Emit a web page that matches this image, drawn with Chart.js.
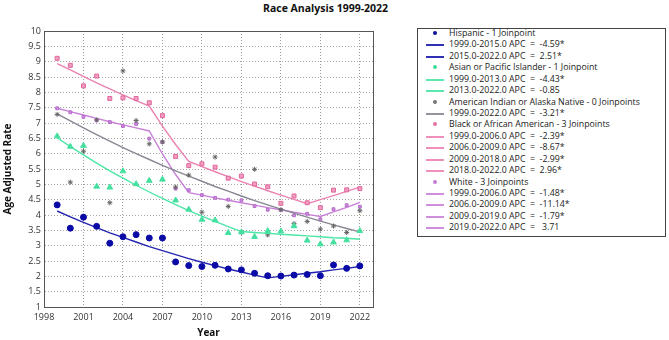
<!DOCTYPE html>
<html>
<head>
<meta charset="utf-8">
<script src="https://cdn.jsdelivr.net/npm/chart.js@4.4.1/dist/chart.umd.min.js"></script>
<style>
  body { margin: 0; background: #fff; }
  #wrap { position: relative; width: 669px; height: 340px; background: #fff; overflow: hidden; }
  #title { position: absolute; left: 263px; top: 1px; font: bold 10.5px "Open Sans", sans-serif; color: #111; white-space: nowrap; }
  #plot { position: absolute; left: 0; top: 0; }
  #legend { position: absolute; left: 417px; top: 28px; width: 249px; height: 209px; border: 1px solid #444; box-sizing: border-box; }
  .row { position: absolute; left: 0; height: 12px; font: 8.8px "Open Sans", sans-serif; color: #222; white-space: pre; }
  .row span { position: absolute; left: 31px; top: -1px; }
  .sym-line { position: absolute; left: 8px; top: 5px; width: 18px; height: 2px; }
  .sym-dot { position: absolute; left: 15px; top: 3px; width: 4px; height: 4px; border-radius: 2px; }
</style>
</head>
<body>
<div id="wrap">
  <div id="title">Race Analysis 1999-2022</div>
  <canvas id="plot" width="380" height="340"></canvas>
  <div id="legend"></div>
</div>
<script>
const years = [1999, 2000, 2001, 2002, 2003, 2004, 2005, 2006, 2007, 2008, 2009, 2010,
               2011, 2012, 2013, 2014, 2015, 2016, 2017, 2018, 2019, 2020, 2021, 2022];
const xTicks = [1998, 2001, 2004, 2007, 2010, 2013, 2016, 2019, 2022];

const hispanicRate = [4.33, 3.57, 3.93, 3.63, 3.08, 3.29, 3.36, 3.25, 3.25, 2.47, 2.35, 2.32,
                      2.36, 2.24, 2.21, 2.10, 2.02, 2.01, 2.04, 2.06, 2.02, 2.37, 2.26, 2.34];
const hispanicFit = [4.13, 3.94, 3.76, 3.59, 3.42, 3.27, 3.12, 2.97, 2.84, 2.71, 2.58, 2.46,
                     2.35, 2.24, 2.14, 2.04, 1.95, 2.00, 2.05, 2.10, 2.15, 2.21, 2.26, 2.32];

const asianRate = [6.57, 6.23, 6.26, 4.93, 4.90, 5.43, 5.01, 5.12, 5.16, 4.48, 4.18, 3.85,
                   3.83, 3.42, 3.44, 3.29, 3.48, 3.47, 3.64, 3.17, 3.05, 3.11, 3.18, 3.48];
const asianFit = [6.52, 6.23, 5.96, 5.69, 5.44, 5.20, 4.97, 4.75, 4.54, 4.34, 4.14, 3.96,
                  3.79, 3.62, 3.46, 3.43, 3.40, 3.37, 3.35, 3.32, 3.29, 3.26, 3.24, 3.21];

const aianRate = [7.28, 5.07, 6.08, 7.10, 4.40, 8.70, 7.08, 6.32, 6.38, 4.91, 5.30, 4.09,
                  5.89, 4.28, 3.44, 5.49, 3.35, 4.17, 3.72, 3.79, 3.54, 3.64, 3.43, 4.14];
const aianFit = [7.30, 7.07, 6.84, 6.62, 6.41, 6.20, 6.00, 5.81, 5.62, 5.44, 5.27, 5.10,
                 4.93, 4.78, 4.62, 4.47, 4.33, 4.19, 4.06, 3.93, 3.80, 3.68, 3.56, 3.45];

const blackRate = [9.11, 8.88, 8.21, 8.53, 7.80, 7.82, 7.80, 7.66, 7.24, 5.91, 5.61, 5.67,
                   5.56, 5.20, 5.27, 5.01, 4.92, 4.38, 4.62, 4.40, 4.24, 4.81, 4.82, 4.86];
const blackFit = [8.94, 8.73, 8.52, 8.31, 8.11, 7.92, 7.73, 7.55, 6.90, 6.30, 5.75, 5.58,
                  5.41, 5.25, 5.09, 4.94, 4.79, 4.65, 4.51, 4.37, 4.50, 4.63, 4.77, 4.91];

const whiteRate = [7.48, 7.35, 7.20, 7.09, 7.03, 6.90, 6.97, 6.49, 6.38, 4.86, 4.81, 4.65,
                   4.56, 4.50, 4.48, 4.29, 4.17, 4.17, 3.99, 4.04, 3.86, 4.19, 4.32, 4.27];
const whiteFit = [7.48, 7.37, 7.26, 7.15, 7.04, 6.94, 6.84, 6.74, 5.99, 5.32, 4.73, 4.65,
                  4.56, 4.48, 4.40, 4.32, 4.24, 4.17, 4.09, 4.02, 3.95, 4.10, 4.25, 4.41];

const legendRows = [
    ['dot', '#10109a', 'Hispanic - 1 Joinpoint'],
    ['line', '#3030b4', '1999.0-2015.0 APC  =  -4.59*'],
    ['line', '#3030b4', '2015.0-2022.0 APC  =  2.51*'],
    ['dot', '#3fdc9a', 'Asian or Pacific Islander - 1 Joinpoint'],
    ['line', '#5ae8ae', '1999.0-2013.0 APC  =  -4.43*'],
    ['line', '#5ae8ae', '2013.0-2022.0 APC  =  -0.85'],
    ['dot', '#777', 'American Indian or Alaska Native - 0 Joinpoints'],
    ['line', '#9494a0', '1999.0-2022.0 APC  =  -3.21*'],
    ['dot', '#e674a4', 'Black or African American - 3 Joinpoints'],
    ['line', '#ee8fbc', '1999.0-2006.0 APC  =  -2.39*'],
    ['line', '#ee8fbc', '2006.0-2009.0 APC  =  -8.67*'],
    ['line', '#ee8fbc', '2009.0-2018.0 APC  =  -2.99*'],
    ['line', '#ee8fbc', '2018.0-2022.0 APC  =  2.96*'],
    ['dot', '#c57ed6', 'White - 3 Joinpoints'],
    ['line', '#d08ede', '1999.0-2006.0 APC  =  -1.48*'],
    ['line', '#d08ede', '2006.0-2009.0 APC  =  -11.14*'],
    ['line', '#d08ede', '2009.0-2019.0 APC  =  -1.79*'],
    ['line', '#d08ede', '2019.0-2022.0 APC  =   3.71']
];

// legend box
const legend = document.getElementById('legend');
legendRows.forEach((r, i) => {
    const row = document.createElement('div');
    row.className = 'row';
    row.style.top = Math.round(i * 11.43 - 1) + 'px';
    const sym = document.createElement('div');
    sym.className = r[0] === 'dot' ? 'sym-dot' : 'sym-line';
    sym.style.background = r[1];
    row.appendChild(sym);
    const txt = document.createElement('span');
    txt.textContent = r[2];
    row.appendChild(txt);
    legend.appendChild(row);
});

const pts = arr => arr.map((v, i) => ({x: years[i], y: v}));

const frame = {
    id: 'frame',
    afterDatasetsDraw(chart) {
        const a = chart.chartArea;
        const ctx = chart.ctx;
        ctx.save();
        ctx.strokeStyle = '#555';
        ctx.lineWidth = 1;
        ctx.strokeRect(Math.round(a.left) + 0.5, Math.round(a.top) + 0.5,
                       Math.round(a.right - a.left), Math.round(a.bottom - a.top));
        ctx.restore();
    }
};

function fitSet(data, color) {
    return {data: pts(data), showLine: true, borderColor: color, borderWidth: 1.4,
            pointRadius: 0, fill: false, tension: 0};
}
function rateSet(data, color, style, r, border) {
    return {data: pts(data), showLine: false, pointStyle: style, pointRadius: r,
            backgroundColor: color, borderColor: border || color, borderWidth: 1};
}

new Chart(document.getElementById('plot').getContext('2d'), {
    type: 'scatter',
    data: {
        datasets: [
            rateSet(hispanicRate, '#0a0aa6', 'circle', 3),
            fitSet(hispanicFit, '#2424b0'),
            rateSet(asianRate, '#45e0a0', 'triangle', 3.3),
            fitSet(asianFit, '#4ce6a6'),
            rateSet(aianRate, '#666', 'star', 2.5, '#666'),
            fitSet(aianFit, '#888894'),
            rateSet(blackRate, '#f19cc0', 'rect', 2.8, '#e0689c'),
            fitSet(blackFit, '#ea82b2'),
            rateSet(whiteRate, '#c98ada', 'rect', 2, '#b86fcc'),
            fitSet(whiteFit, '#c97fd8')
        ]
    },
    options: {
        responsive: false,
        animation: false,
        layout: {padding: {left: 0, top: 31, right: 7, bottom: 0}},
        plugins: {legend: {display: false}, tooltip: {enabled: false}},
        scales: {
            x: {
                type: 'linear',
                min: 1998,
                max: 2023,
                afterBuildTicks: s => { s.ticks = xTicks.map(v => ({value: v})); },
                afterFit: s => { s.height = 33; },
                grid: {color: '#9a9a9a', drawTicks: false},
                border: {display: true, color: '#555', dash: [1, 2]},
                ticks: {padding: 5, color: '#333', font: {family: 'Open Sans', size: 9},
                        maxRotation: 0, callback: v => String(v)},
                title: {display: true, text: 'Year', color: '#111',
                        font: {family: 'Open Sans', size: 10, weight: 'bold'}, padding: {top: 0, bottom: 1}}
            },
            y: {
                min: 1,
                max: 10,
                afterFit: s => { s.width = 44; },
                grid: {color: '#a8a8a8', drawTicks: false},
                border: {display: true, color: '#555', dash: [1, 2]},
                ticks: {stepSize: 0.5, padding: 3, color: '#333', font: {family: 'Open Sans', size: 9},
                        callback: v => String(v)},
                title: {display: true, text: 'Age Adjusted Rate', color: '#111',
                        font: {family: 'Open Sans', size: 10, weight: 'bold'}, padding: {top: 2, bottom: 0}}
            }
        }
    },
    plugins: [frame]
});
</script>
</body>
</html>
